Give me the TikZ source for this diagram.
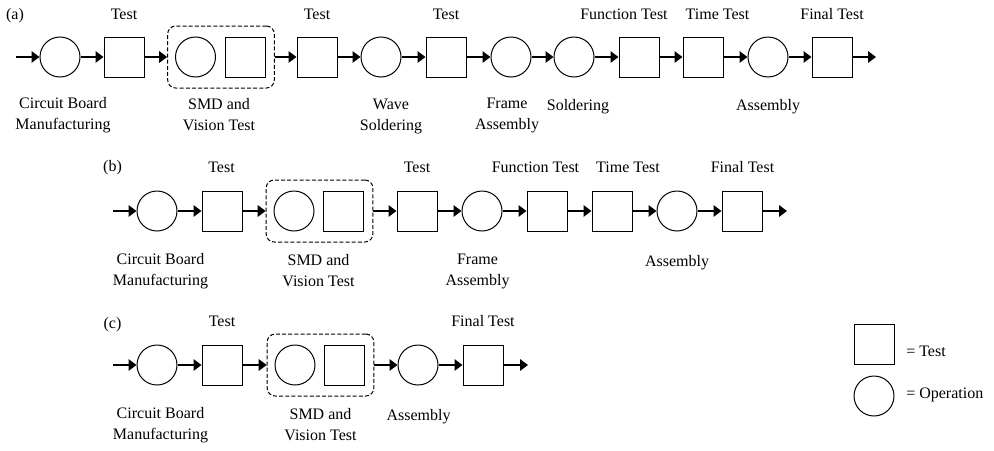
\documentclass[tikz,border=0pt]{standalone}
\usepackage{fontspec}
\setmainfont{Liberation Serif}
\usetikzlibrary{arrows.meta}
\begin{document}
\begin{tikzpicture}[x=0.75pt,y=-0.75pt,
  op/.style={circle,draw,line width=0.75pt,minimum size=30pt,inner sep=0pt},
  tst/.style={rectangle,draw,line width=0.75pt,minimum size=30pt,inner sep=0pt},
  grp/.style={rectangle,draw,line width=0.75pt,dash pattern=on 3pt off 1.6pt,rounded corners=6pt,inner sep=0pt,minimum width=80pt,minimum height=46.5pt},
  flow/.style={line width=1.5pt,-{Triangle[length=6pt,width=8.5pt]}},
  lbl/.style={font=\fontsize{12}{15.75}\selectfont,align=center,inner sep=0pt},
]
\useasboundingbox (0,0) rectangle (994,450);
% ---------- row (a)
\coordinate (a0) at (16,57);
\node[op] (a1) at (60,57) {};
\node[tst] (a2) at (124,57) {};
\node[grp] (a3) at (221,57) {};
\node[op] (a3o) at (195.5,57) {};
\node[tst] (a3t) at (245,57) {};
\node[tst] (a4) at (317,57) {};
\node[op] (a5) at (381,57) {};
\node[tst] (a6) at (446,57) {};
\node[op] (a7) at (511,57) {};
\node[op] (a8) at (574,57) {};
\node[tst] (a9) at (639,57) {};
\node[tst] (a10) at (703,57) {};
\node[op] (a11) at (768,57) {};
\node[tst] (a12) at (832,57) {};
\coordinate (a13) at (876,57);
\foreach \s/\t in {a0/a1,a1/a2,a2/a3,a3/a4,a4/a5,a5/a6,a6/a7,a7/a8,a8/a9,a9/a10,a10/a11,a11/a12,a12/a13}
  \draw[flow] (\s) -- (\t);
\node[lbl] (la) at (15,16) {(a)};
\node[lbl] (la2) at (124,14) {Test};
\node[lbl] (la4) at (317,14) {Test};
\node[lbl] (la6) at (446,14) {Test};
\node[lbl] (la9) at (624,14) {Function Test};
\node[lbl] (la10) at (717.5,14) {Time Test};
\node[lbl] (la12) at (832,14) {Final Test};
\node[lbl] (lb1) at (63,115) {Circuit Board\\Manufacturing};
\node[lbl] (lb3) at (219,115) {SMD and\\Vision Test};
\node[lbl] (lb5) at (391,116) {Wave\\Soldering};
\node[lbl] (lb7) at (507,115) {Frame\\Assembly};
\node[lbl] (lb8) at (578,107) {Soldering};
\node[lbl] (lb11) at (768,107) {Assembly};
% ---------- row (b)
\coordinate (b0) at (113,211);
\node[op] (b1) at (157,211) {};
\node[tst] (b2) at (222,211) {};
\node[grp] (b3) at (319.5,211) {};
\node[op] (b3o) at (294,211) {};
\node[tst] (b3t) at (343,211) {};
\node[tst] (b4) at (417,211) {};
\node[op] (b5) at (482,211) {};
\node[tst] (b6) at (547,211) {};
\node[tst] (b7) at (612,211) {};
\node[op] (b8) at (677,211) {};
\node[tst] (b9) at (742,211) {};
\coordinate (b10) at (787,211);
\foreach \s/\t in {b0/b1,b1/b2,b2/b3,b3/b4,b4/b5,b5/b6,b6/b7,b7/b8,b8/b9,b9/b10}
  \draw[flow] (\s) -- (\t);
\node[lbl] (lbb) at (112.5,167.5) {(b)};
\node[lbl] (lbt2) at (221.5,167.5) {Test};
\node[lbl] (lbt4) at (417,167.5) {Test};
\node[lbl] (lbt6) at (535.5,167.5) {Function Test};
\node[lbl] (lbt7) at (628,167.5) {Time Test};
\node[lbl] (lbt9) at (742.5,167.5) {Final Test};
\node[lbl] (lbd1) at (160.5,271) {Circuit Board\\Manufacturing};
\node[lbl] (lbd3) at (318.5,271) {SMD and\\Vision Test};
\node[lbl] (lbd5) at (477.5,271) {Frame\\Assembly};
\node[lbl] (lbd8) at (677,262.5) {Assembly};
% ---------- row (c)
\coordinate (c0) at (113,365);
\node[op] (c1) at (157,365) {};
\node[tst] (c2) at (222,365) {};
\node[grp] (c3) at (320.5,365) {};
\node[op] (c3o) at (295,365) {};
\node[tst] (c3t) at (344,365) {};
\node[op] (c4) at (418,365) {};
\node[tst] (c5) at (483,365) {};
\coordinate (c6) at (528,365);
\foreach \s/\t in {c0/c1,c1/c2,c2/c3,c3/c4,c4/c5,c5/c6}
  \draw[flow] (\s) -- (\t);
\node[lbl] (lcc) at (112.5,324.5) {(c)};
\node[lbl] (lct2) at (222,321.5) {Test};
\node[lbl] (lct5) at (483,321.5) {Final Test};
\node[lbl] (lcd1) at (160.5,425) {Circuit Board\\Manufacturing};
\node[lbl] (lcd3) at (320.5,425) {SMD and\\Vision Test};
\node[lbl] (lcd4) at (418.5,416.5) {Assembly};
% ---------- legend
\node[tst] (kt) at (874,344) {};
\node[op] (ko) at (874,396) {};
\node[lbl,anchor=west] (ktl) at (906,351) {= Test};
\node[lbl,anchor=west] (kol) at (906,395) {= Operation};
\end{tikzpicture}
\end{document}
